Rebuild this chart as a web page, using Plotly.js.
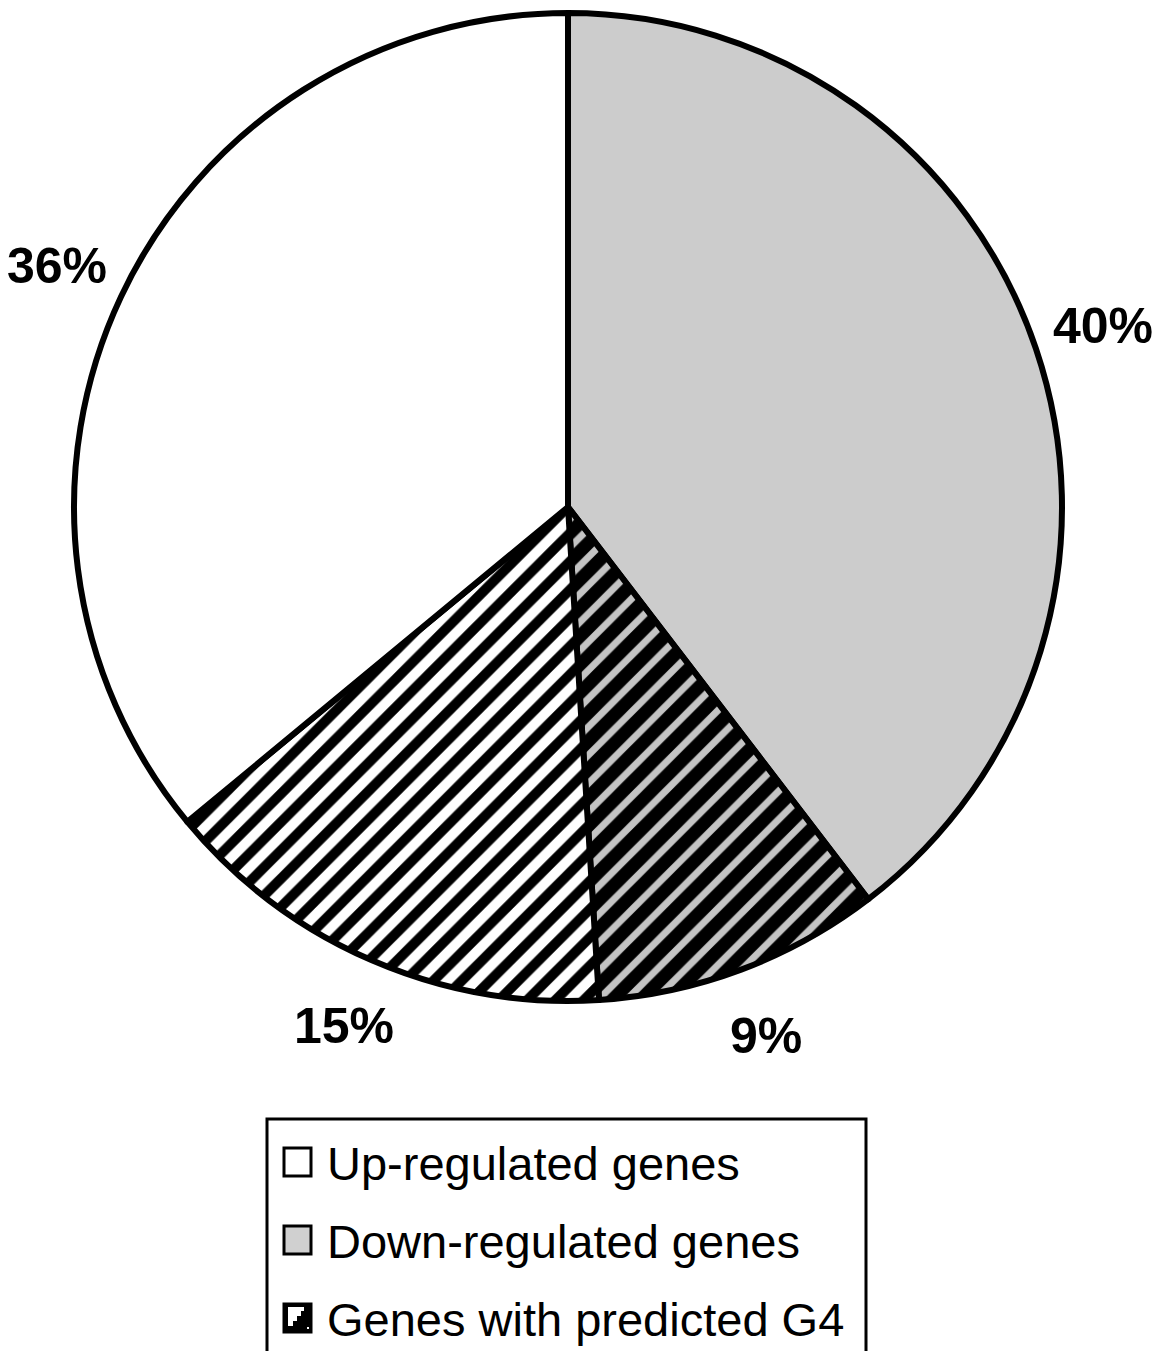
<!DOCTYPE html>
<html>
<head>
<meta charset="utf-8">
<script src="https://cdn.plot.ly/plotly-3.0.1.min.js"></script>
<style>html,body{margin:0;padding:0;background:#fff;}#chart{width:1171px;height:1351px;}</style>
</head>
<body>
<div id="chart"></div>
<script>
// Data (slice shares; labels show rounded %)
const sliceLabels = ["Down-regulated genes", "Down-regulated genes with predicted G4", "Up-regulated genes with predicted G4", "Up-regulated genes"];
const sliceValues = [39.6, 9.4, 15.0, 36.0];
const legendLabels = ["Up-regulated genes", "Down-regulated genes", "Genes with predicted G4"];

const W = 1171, H = 1351;
const px = x => x / W;
const py = y => 1 - y / H;

// pie geometry (layout)
const CX = 568, CY = 507, R = 494, LABEL_R = 565;

const grey = "#cccccc";

const trace = {
  type: "pie",
  labels: sliceLabels,
  values: sliceValues,
  sort: false,
  direction: "clockwise",
  rotation: 0,
  textinfo: "none",
  hoverinfo: "skip",
  showlegend: false,
  marker: {
    colors: [grey, "#000000", "#ffffff", "#ffffff"],
    line: {color: "#000", width: 6},
    pattern: {
      shape: ["", "/", "/", ""],
      fgcolor: ["#000", "#000", "#000", "#000"],
      bgcolor: [grey, "#c4c4c4", "#ffffff", "#ffffff"],
      size: 20,
      solidity: [0.5, 0.65, 0.5, 0.5],
      fillmode: "replace"
    }
  },
  domain: {x: [px(CX - R), px(CX + R)], y: [py(CY + R), py(CY - R)]}
};

const shapes = [];
const annotations = [];

// percentage labels placed radially at each slice's mid-angle
const total = sliceValues.reduce((a, b) => a + b, 0);
let cum = 0;
sliceValues.forEach(v => {
  const mid = (cum + v / 2) / total * 2 * Math.PI;
  cum += v;
  const lx = CX + LABEL_R * Math.sin(mid);
  const ly = CY - LABEL_R * Math.cos(mid);
  annotations.push({xref: "paper", yref: "paper", x: px(lx), y: py(ly), xanchor: "center", yanchor: "middle", showarrow: false,
    text: Math.round(v / total * 100) + "%",
    font: {family: "Liberation Sans, Arial, sans-serif", size: 50, color: "#000", weight: "bold"}});
});

// Custom legend (shapes + annotations)
shapes.push({type: "rect", xref: "paper", yref: "paper", x0: px(267), x1: px(866), y0: py(1362), y1: py(1119), line: {color: "#000", width: 3}, fillcolor: "rgba(0,0,0,0)"});
const rowY = [1162, 1240, 1318];
const iconFill = ["#ffffff", "#d0d0d0", "#000000"];
for (let i = 0; i < legendLabels.length; i++) {
  const cy = rowY[i];
  shapes.push({type: "rect", xref: "paper", yref: "paper", x0: px(284), x1: px(311), y0: py(cy + 14), y1: py(cy - 14), line: {color: "#000", width: 3}, fillcolor: iconFill[i]});
  annotations.push({xref: "paper", yref: "paper", x: px(325), y: py(cy + 1), xanchor: "left", yanchor: "middle", showarrow: false, text: legendLabels[i], font: {family: "Liberation Sans, Arial, sans-serif", size: 47, color: "#000"}});
}
// staircase glyph in the G4 icon
{
  const x0 = 285, y0 = rowY[2] - 14;
  const pts = [[3,3],[19,3],[19,7],[16,7],[16,12],[12,12],[12,17],[8,17],[8,22],[3,22]];
  const d = "M" + pts.map(p => px(x0 + p[0]) + "," + py(y0 + p[1])).join(" L") + " Z";
  shapes.push({type: "path", xref: "paper", yref: "paper", path: d, fillcolor: "#fff", line: {width: 0}});
  shapes.push({type: "rect", xref: "paper", yref: "paper", x0: px(x0 + 22), x1: px(x0 + 24), y0: py(y0 + 25), y1: py(y0 + 23), fillcolor: "#fff", line: {width: 0}});
}

const layout = {
  width: W, height: H,
  margin: {l: 0, r: 0, t: 0, b: 0},
  paper_bgcolor: "#fff",
  showlegend: false,
  shapes: shapes,
  annotations: annotations
};

Plotly.newPlot("chart", [trace], layout, {displayModeBar: false, staticPlot: true});
</script>
</body>
</html>
